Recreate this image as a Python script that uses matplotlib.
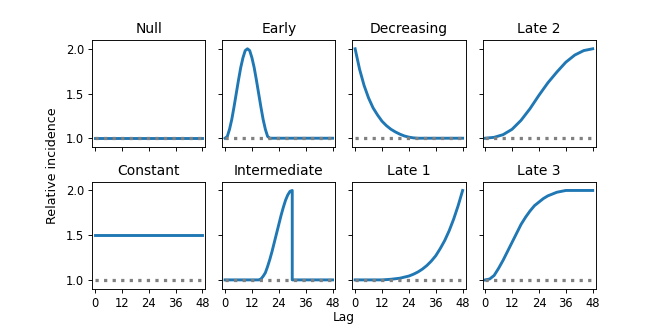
import matplotlib
matplotlib.use("Agg")
import matplotlib.pyplot as plt

# each scenario: lags and relative incidence
null_lag = [0, 48]
null_val = [1.0, 1.0]

early_lag = [0, 1, 2, 3, 4, 5, 6, 7, 8, 9, 10, 11, 12, 13, 14, 15, 16, 17, 18, 19, 20, 48]
early_val = [1.00, 1.02, 1.10, 1.21, 1.35, 1.50, 1.65, 1.79, 1.90, 1.98, 2.00,
             1.98, 1.90, 1.79, 1.65, 1.50, 1.35, 1.21, 1.10, 1.02, 1.00, 1.00]

decr_lag = [0, 2, 4, 6, 8, 10, 12, 14, 16, 18, 20, 22, 24, 26, 28, 48]
decr_val = [2.00, 1.77, 1.59, 1.45, 1.34, 1.26, 1.19, 1.14, 1.10, 1.07, 1.045,
            1.025, 1.012, 1.004, 1.0, 1.0]

late2_lag = [0, 4, 8, 12, 16, 20, 24, 28, 32, 36, 40, 44, 48]
late2_val = [1.00, 1.01, 1.04, 1.10, 1.20, 1.33, 1.48, 1.62, 1.74, 1.85, 1.93, 1.98, 2.00]

const_lag = [0, 48]
const_val = [1.5, 1.5]

inter_lag = [0, 15, 16, 17, 18, 19, 20, 21, 22, 23, 24, 25, 26, 27, 28, 29, 30, 30, 48]
inter_val = [1.00, 1.00, 1.01, 1.04, 1.08, 1.15, 1.23, 1.32, 1.42, 1.52, 1.62,
             1.72, 1.81, 1.89, 1.95, 1.99, 2.00, 1.00, 1.00]

late1_lag = [0, 12, 16, 20, 24, 26, 28, 30, 32, 34, 36, 38, 40, 42, 44, 46, 48]
late1_val = [1.00, 1.00, 1.007, 1.019, 1.043, 1.063, 1.088, 1.12, 1.16, 1.21,
             1.27, 1.35, 1.44, 1.55, 1.68, 1.83, 2.00]

late3_lag = [0, 2, 4, 6, 8, 10, 12, 14, 16, 18, 20, 22, 24, 26, 28, 30, 32, 34, 36, 48]
late3_val = [1.00, 1.01, 1.05, 1.13, 1.22, 1.32, 1.42, 1.52, 1.62, 1.70, 1.77,
             1.83, 1.87, 1.91, 1.94, 1.96, 1.98, 1.99, 2.00, 2.00]

titles = ["Null", "Early", "Decreasing", "Late 2",
          "Constant", "Intermediate", "Late 1", "Late 3"]
curves = [(null_lag, null_val), (early_lag, early_val), (decr_lag, decr_val),
          (late2_lag, late2_val), (const_lag, const_val), (inter_lag, inter_val),
          (late1_lag, late1_val), (late3_lag, late3_val)]
xticks = [0, 12, 24, 36, 48]
yticks = [1.0, 1.5, 2.0]

fig, axes = plt.subplots(2, 4, figsize=(8, 4), dpi=83, sharex=True, sharey=True)
fig.subplots_adjust(left=0.139, right=0.897, top=0.88, bottom=0.13,
                    wspace=0.15, hspace=0.32)

for ax, title, (lag, val) in zip(axes.flat, titles, curves):
    ax.plot(lag, val, color="C0", lw=2.5)
    ax.plot([0, 48], [1, 1], color="gray", lw=2.8, ls=":")
    ax.set_title(title)

ax = axes[0, 0]
ax.set_xticks(xticks)
ax.set_yticks(yticks)
ax.set_xlim(-1.2, 49.3)
ax.set_ylim(0.9, 2.1)

fig.text(0.079, 0.5, "Relative incidence", rotation=90, va="center", ha="center", fontsize=11)
fig.text(0.518, 0.045, "Lag", ha="center", va="center", fontsize=10.5)

plt.savefig("out.png")
